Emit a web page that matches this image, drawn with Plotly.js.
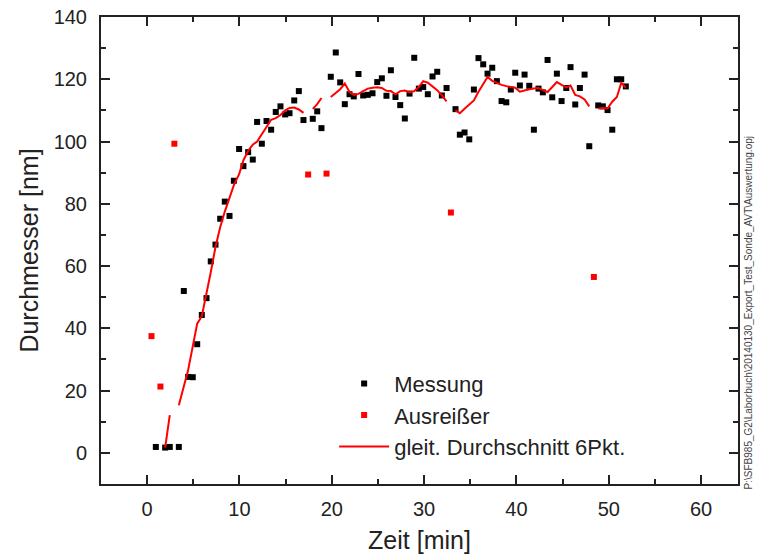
<!DOCTYPE html>
<html>
<head>
<meta charset="utf-8">
<script src="https://cdn.plot.ly/plotly-3.0.1.min.js"></script>
<style>html,body{margin:0;padding:0;background:#fff;}#chart{width:761px;height:554px;}</style>
</head>
<body>
<div id="chart"></div>
<script>
// Messung (measurement)
const messX = [0.94,1.95,2.45,3.43,3.97,4.44,4.94,5.42,5.92,6.43,6.89,7.40,7.91,8.41,8.92,9.39,9.96,10.43,10.94,11.44,11.91,12.42,12.93,13.43,13.93,14.44,14.95,15.42,15.93,16.43,16.93,17.94,18.42,18.88,19.89,20.43,20.91,21.41,21.92,22.38,22.89,23.40,23.90,24.41,24.92,25.42,25.92,26.40,26.90,27.41,27.91,28.42,28.93,29.43,29.90,30.40,30.91,31.42,31.92,32.43,33.40,33.87,34.38,34.89,35.39,35.89,36.40,36.87,37.38,37.88,38.39,38.90,39.39,39.87,40.37,40.88,41.39,41.89,42.39,42.86,43.37,43.88,44.38,44.89,45.40,45.86,46.37,46.87,47.38,47.89,48.86,49.36,49.87,50.38,50.88,51.35,51.85];
const messY = [1.9,1.7,1.9,1.9,52.0,24.4,24.3,34.9,44.3,49.7,61.5,66.9,75.2,80.7,76.1,87.4,97.6,92.1,96.6,94.2,106.3,99.3,106.6,103.8,109.5,111.3,108.7,109.1,113.2,116.2,106.9,107.3,109.7,104.3,120.8,128.6,119.0,112.0,115.2,114.5,121.7,114.8,115.0,115.5,119.1,120.3,114.7,122.9,114.3,111.7,107.4,115.4,126.9,117.0,117.5,115.2,120.9,122.4,114.8,117.2,110.4,102.2,102.9,100.7,116.7,126.8,124.8,121.8,123.7,119.4,113.0,112.6,116.7,122.1,118.0,121.5,117.9,103.8,117.0,115.8,126.2,114.2,121.8,113.0,117.2,123.9,111.9,117.2,121.5,98.5,111.6,111.3,110.1,103.8,120.0,120.0,117.7];

// Ausreißer (outliers)
const outX = [0.47,1.44,2.95,17.44,19.43,32.90,48.39];
const outY = [37.5,21.3,99.3,89.4,89.7,77.2,56.5];

// gleit. Durchschnitt 6Pkt. (moving average; null = gap)
const avgX = [1.95,2.45,2.95,3.43,3.97,4.44,4.94,5.42,5.92,6.43,6.89,7.40,7.91,8.41,8.92,9.39,9.96,10.43,10.94,11.44,11.91,12.42,12.93,13.43,13.93,14.44,14.95,15.42,15.93,16.43,16.93,17.44,17.94,18.42,18.88,19.43,19.89,20.43,20.91,21.41,21.92,22.38,22.89,23.40,23.90,24.41,24.92,25.42,25.92,26.40,26.90,27.41,27.91,28.42,28.93,29.43,29.90,30.40,30.91,31.42,31.92,32.43,32.90,33.40,33.87,34.38,34.89,35.39,35.89,36.40,36.87,37.38,37.88,38.39,38.90,39.39,39.87,40.37,40.88,41.39,41.89,42.39,42.86,43.37,43.88,44.38,44.89,45.40,45.86,46.37,46.87,47.38,47.89,48.39,48.86,49.36,49.87,50.38,50.88,51.35,51.85];
const avgY = [1.7,12.1,null,15.3,21.3,26.6,34.2,41.5,43.9,51.0,58.0,66.1,72.5,77.5,82.0,86.0,89.5,94.0,97.0,99.0,100.0,102.5,105.0,107.0,107.5,108.5,110.0,110.8,110.9,110.3,109.2,null,110.5,112.0,114.0,null,114.3,115.5,116.8,118.6,115.9,115.0,115.3,116.2,117.0,117.3,117.4,117.2,116.3,116.2,115.2,116.2,116.4,115.8,116.2,117.5,119.4,118.9,117.8,116.5,114.8,112.9,null,110.0,109.1,110.5,111.8,113.2,116.0,118.5,120.7,119.5,118.8,118.2,117.8,117.5,117.3,116.0,116.5,116.8,117.0,117.2,116.5,115.9,117.5,119.1,118.2,117.4,118.0,115.0,114.5,113.5,111.3,null,110.6,110.8,110.6,112.8,114.3,118.8,117.3];

const FONT = 'Arial, "Liberation Sans", Arimo, sans-serif';

const traces = [
  {x: messX, y: messY, type: 'scatter', mode: 'markers', name: 'Messung',
   marker: {symbol: 'square', size: 6, color: '#000000'}},
  {x: outX, y: outY, type: 'scatter', mode: 'markers', name: 'Ausreißer',
   marker: {symbol: 'square', size: 6, color: '#ff0000'}},
  {x: avgX, y: avgY, type: 'scatter', mode: 'lines', name: 'gleit. Durchschnitt 6Pkt.',
   line: {color: '#ff0000', width: 2}, connectgaps: false}
];

const axisCommon = {
  showline: true, linewidth: 2, linecolor: '#222', mirror: 'ticks',
  ticks: 'inside', ticklen: 9, tickwidth: 2, tickcolor: '#222',
  showgrid: false, zeroline: false,
  tickfont: {family: FONT, size: 20, color: '#222'}
};

const layout = {
  width: 761, height: 554,
  margin: {l: 101, r: 23, t: 17, b: 70, pad: 0},
  paper_bgcolor: '#fff', plot_bgcolor: '#fff',
  showlegend: true,
  legend: {x: 0.366, y: 0.26, xanchor: 'left', yanchor: 'top',
           bgcolor: 'rgba(0,0,0,0)', font: {family: FONT, size: 22, color: '#222'},
           itemwidth: 50, tracegroupgap: 0},
  xaxis: Object.assign({}, axisCommon, {
    range: [-5, 64], dtick: 10, tick0: 0,
    minor: {dtick: 5, ticklen: 5, tickwidth: 2, ticks: 'inside', tickcolor: '#222'},
    ticklabelstandoff: 6,
    title: {text: 'Zeit [min]', font: {family: FONT, size: 25, color: '#222'}, standoff: 14}
  }),
  yaxis: Object.assign({}, axisCommon, {
    range: [-10, 140], dtick: 20, tick0: 0,
    minor: {dtick: 10, ticklen: 5, tickwidth: 2, ticks: 'inside', tickcolor: '#222'},
    ticklabelstandoff: 8,
    title: {text: 'Durchmesser [nm]', font: {family: FONT, size: 25, color: '#222'}, standoff: 8}
  }),
  annotations: [{
    text: 'P:\\SFB985_G2\\Laborbuch\\20140130_Export_Test_Sonde_AVT\\Auswertung.opj',
    xref: 'paper', yref: 'paper', x: 1.028, y: 0.366, textangle: -90,
    showarrow: false, font: {family: FONT, size: 10, color: '#444'}
  }]
};

Plotly.newPlot('chart', traces, layout, {staticPlot: true, displayModeBar: false});
</script>
</body>
</html>
